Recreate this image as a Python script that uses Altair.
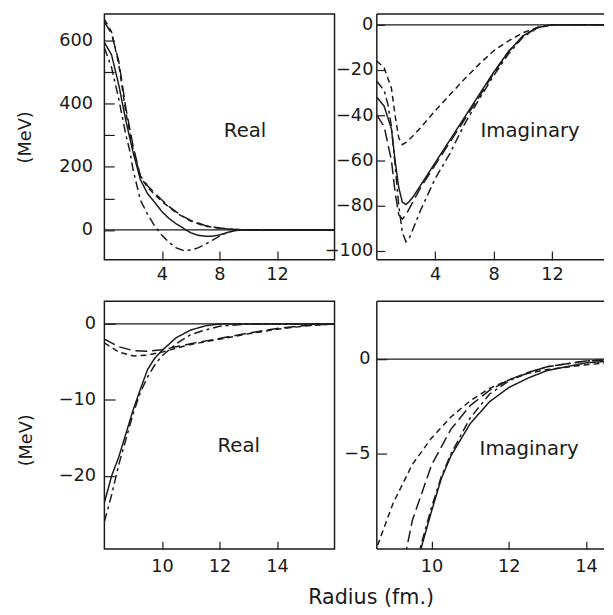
import altair as alt
import pandas as pd

FONT = "DejaVu Sans"
INK = "#1a1a1a"
STYLE_ORDER = ["solid", "long dash", "short dash", "dash-dot"]
DASHES = [[1, 0], [12, 5], [6, 4], [9, 4, 3, 4]]

# ---------------- Top-left: Real part (MeV) ----------------
tl_solid_r = [0, 0.5, 1.0, 1.5, 2.0, 2.5, 3.0, 3.5, 4.0, 4.5, 5.0, 5.5, 6.0, 6.5, 7.0, 7.5, 8.0, 8.5, 9.0, 9.5, 16]
tl_solid_v = [595, 555, 460, 345, 245, 160, 115, 87, 58, 36, 19, 5, -9, -17, -20, -20, -16, -9, -2, 0, 0]
tl_long_r = [0, 0.5, 1.0, 1.5, 2.0, 2.5, 3.0, 3.5, 4.0, 4.5, 5.0, 5.5, 6.0, 7.0, 8.0, 9.0, 10.0, 16]
tl_long_v = [660, 622, 535, 385, 265, 172, 140, 117, 95, 74, 57, 42, 30, 14, 6, 2, 0, 0]
tl_short_r = [0, 0.5, 1.0, 1.5, 2.0, 2.5, 3.0, 3.5, 4.0, 5.0, 6.0, 7.0, 8.0, 9.0, 10.0, 16]
tl_short_v = [668, 628, 525, 370, 255, 170, 135, 112, 90, 54, 28, 12, 5, 1.5, 0, 0]
tl_dd_r = [0, 0.5, 1.0, 1.5, 1.75, 2.0, 2.5, 3.0, 3.5, 4.0, 4.5, 5.0, 5.5, 6.0, 6.5, 7.0, 7.5, 8.0, 8.5, 9.0, 9.5, 16]
tl_dd_v = [578, 515, 415, 300, 254, 190, 95, 50, 12, -17, -40, -57, -65, -64, -57, -46, -33, -20, -9, -3, 0, 0]

# ---------------- Top-right: Imaginary part (MeV) ----------------
tr_solid_r = [0, 0.5, 1.0, 1.25, 1.5, 1.75, 2.0, 2.25, 2.5, 3, 4, 5, 6, 7, 8, 9, 10, 11, 12, 16]
tr_solid_v = [-32, -36, -46, -60, -72, -78.5, -79.5, -78, -76, -71, -61, -51, -41, -31, -21, -12, -5, -1.2, 0, 0]
tr_long_r = [0, 0.5, 1.0, 1.25, 1.5, 1.75, 2.0, 2.25, 2.5, 3, 4, 5, 6, 7, 8, 9, 10, 11, 12, 16]
tr_long_v = [-40, -45, -60, -74, -84, -86, -84, -81, -78, -72, -62, -52, -42, -32, -21.5, -12, -5, -1.2, 0, 0]
tr_short_r = [0, 0.5, 1.0, 1.25, 1.5, 1.75, 2.0, 2.25, 2.5, 3, 4, 5, 6, 7, 8, 9, 10, 11, 12, 16]
tr_short_v = [-16, -19, -28, -40, -50, -53, -52, -50.5, -49, -45.5, -38, -31, -24, -17.5, -11.5, -7.2, -3.5, -1.2, 0, 0]
tr_dd_r = [0, 0.5, 0.75, 1.0, 1.25, 1.5, 1.75, 2.0, 2.25, 2.5, 3, 4, 5, 6, 7, 8, 9, 10, 11, 12, 16]
tr_dd_v = [-25, -29, -35, -45, -62, -80, -92, -96, -94, -90, -82, -68, -57, -44, -33, -22.5, -13, -5.5, -1.3, 0, 0]

# ---------------- Bottom-left: Real part (MeV), outer region ----------------
bl_solid_r = [8.0, 8.25, 8.5, 9.0, 9.25, 9.5, 9.75, 10.0, 10.5, 11.0, 11.5, 12.0, 16]
bl_solid_v = [-23.5, -20, -17.5, -11.3, -8.6, -6.0, -4.5, -3.5, -1.8, -0.8, -0.25, 0, 0]
bl_long_r = [8.0, 8.5, 9.0, 9.5, 10.0, 10.5, 11.0, 12.0, 13.0, 14.0, 15.0, 16]
bl_long_v = [-2.0, -3.0, -3.5, -3.6, -3.4, -3.0, -2.6, -1.9, -1.2, -0.6, -0.2, 0]
bl_short_r = [8.0, 8.5, 9.0, 9.5, 10.0, 10.5, 11.0, 12.0, 13.0, 14.0, 15.0, 16]
bl_short_v = [-2.5, -3.7, -4.2, -4.1, -3.7, -3.2, -2.7, -2.0, -1.3, -0.7, -0.25, 0]
bl_dd_r = [8.0, 8.25, 8.5, 9.0, 9.25, 9.5, 9.75, 10.0, 10.5, 11.0, 11.5, 12.0, 13.0, 16]
bl_dd_v = [-26, -22.5, -18.5, -11.8, -9.0, -7.0, -5.4, -4.2, -2.6, -1.4, -0.8, -0.3, 0, 0]

# ---------------- Bottom-right: Imaginary part (MeV), outer region ----------------
br_solid_r = [9.65, 9.75, 10.0, 10.25, 10.5, 11.0, 11.5, 12.0, 12.5, 13.0, 14.0, 15.0]
br_solid_v = [-10.6, -9.8, -8.0, -6.3, -5.1, -3.4, -2.25, -1.5, -1.0, -0.6, -0.2, -0.05]
br_long_r = [9.3, 9.5, 10.0, 10.5, 11.0, 11.5, 12.0, 12.5, 13.0, 14.0, 15.0]
br_long_v = [-10.5, -8.5, -5.57, -3.7, -2.45, -1.65, -1.1, -0.7, -0.4, -0.1, 0]
br_short_r = [8.6, 9.0, 9.5, 10.0, 10.5, 11.0, 11.5, 12.0, 12.5, 13.0, 14.0, 15.0]
br_short_v = [-9.8, -7.6, -5.55, -4.15, -3.05, -2.2, -1.55, -1.1, -0.75, -0.55, -0.3, -0.12]
br_dd_r = [9.62, 9.75, 10.0, 10.25, 10.5, 11.0, 11.5, 12.0, 12.5, 13.0, 14.0, 15.0]
br_dd_v = [-10.6, -9.6, -7.8, -6.2, -5.0, -3.1, -1.85, -1.15, -0.72, -0.4, -0.1, 0]


def curves(parts):
    rows = []
    for style, rs, vs in parts:
        for r, v in zip(rs, vs):
            rows.append({"r": r, "v": v, "style": style})
    return pd.DataFrame(rows)


def panel(df, xdom, ydom, w, h, xticks, yticks, label, label_rv, xpad, ypad,
          ytitle=None, title_y=None, left=True, ylabel_expr=None, xtick=9, ytick=10):
    xs = alt.Scale(domain=xdom, nice=False, zero=False)
    ys = alt.Scale(domain=ydom, nice=False, zero=False)
    xaxis = alt.Axis(values=xticks, title=None, domain=False, grid=False,
                     tickSize=xtick, offset=-xtick, tickColor=INK, tickWidth=1.2,
                     labelPadding=xpad, labelFont=FONT, labelFontSize=18,
                     labelColor=INK, labelFlush=False)
    yargs = dict(values=yticks, domain=False, grid=False,
                 tickSize=ytick, offset=-ytick, tickColor=INK, tickWidth=1.2,
                 labelPadding=ypad, labelFont=FONT, labelFontSize=18,
                 labelColor=INK, labelFlush=False)
    if ylabel_expr:
        yargs["labelExpr"] = ylabel_expr
    if ytitle:
        yargs.update(title=ytitle, titleFont=FONT, titleFontSize=18,
                     titleFontWeight="normal", titleColor=INK,
                     titleX=-81, titleY=title_y)
    else:
        yargs["title"] = None
    yaxis = alt.Axis(**yargs)
    X = lambda: alt.X("r:Q", scale=xs, axis=xaxis)
    Y = lambda: alt.Y("v:Q", scale=ys, axis=yaxis)

    lines = alt.Chart(df).mark_line(clip=True, strokeWidth=1.5, color=INK).encode(
        x=X(), y=Y(),
        strokeDash=alt.StrokeDash("style:N",
                                  scale=alt.Scale(domain=STYLE_ORDER, range=DASHES),
                                  legend=None),
        detail="style:N",
    )
    zero = alt.Chart(pd.DataFrame({"v": [0]})).mark_rule(
        color=INK, strokeWidth=1.3).encode(y=Y())
    txt = alt.Chart(pd.DataFrame({"r": [label_rv[0]], "v": [label_rv[1]], "t": [label]})).mark_text(
        font=FONT, fontSize=20, color=INK, align="center", baseline="middle").encode(
        x=X(), y=Y(), text="t:N")
    layers = [lines, zero, txt]
    if not left:
        vframe = alt.Chart(pd.DataFrame({"r": [xdom[0]]})).mark_rule(
            color=INK, strokeWidth=1.5).encode(x=X())
        hframe = alt.Chart(pd.DataFrame({"v": [ydom[0], ydom[1]]})).mark_rule(
            color=INK, strokeWidth=1.5).encode(y=Y())
        layers += [vframe, hframe]
    ch = alt.layer(*layers).properties(width=w, height=h)
    if not left:
        ch = ch.properties(view=alt.ViewBackground(strokeOpacity=0))
    return ch


tl = panel(curves([("solid", tl_solid_r, tl_solid_v), ("long dash", tl_long_r, tl_long_v),
                   ("short dash", tl_short_r, tl_short_v), ("dash-dot", tl_dd_r, tl_dd_v)]),
           [0, 16], [-95, 685], 234, 250, [4, 8, 12], [0, 100, 200, 300, 400, 500, 600],
           "Real", (9.78, 314), 6, 12, ytitle="(MeV)", title_y=125,
           ylabel_expr="datum.value % 200 == 0 ? datum.label : ''")
tr = panel(curves([("solid", tr_solid_r, tr_solid_v), ("long dash", tr_long_r, tr_long_v),
                   ("short dash", tr_short_r, tr_short_v), ("dash-dot", tr_dd_r, tr_dd_v)]),
           [0, 15.56], [-104, 4.8], 231, 250, [4, 8, 12], [0, -20, -40, -60, -80, -100],
           "Imaginary", (10.5, -47), 6, 4, left=False, ytick=8)
bl = panel(curves([("solid", bl_solid_r, bl_solid_v), ("long dash", bl_long_r, bl_long_v),
                   ("short dash", bl_short_r, bl_short_v), ("dash-dot", bl_dd_r, bl_dd_v)]),
           [8, 16], [-29.6, 3.0], 234, 252, [10, 12, 14], [0, -10, -20],
           "Real", (12.67, -16.1), 9, 9, ytitle="(MeV)", title_y=141, xtick=8, ytick=11)
br = panel(curves([("solid", br_solid_r, br_solid_v), ("long dash", br_long_r, br_long_v),
                   ("short dash", br_short_r, br_short_v), ("dash-dot", br_dd_r, br_dd_v)]),
           [8.58, 14.47], [-10.0, 3.05], 231, 252, [10, 12, 14], [0, -5],
           "Imaginary", (12.53, -4.72), 9, 7, left=False, xtick=8)

chart = alt.concat(tl, tr, bl, br, columns=2,
                   spacing=alt.RowColnumber(row=42, column=43),
                   bounds="flush").properties(
    title=alt.TitleParams("Radius (fm.)", orient="bottom", anchor="start", frame="bounds",
                          font=FONT, fontSize=21, fontWeight="normal", color=INK,
                          offset=11, dx=297),
    padding={"left": 8, "top": 0, "right": 0, "bottom": 0},
    background="white",
).configure_view(stroke=INK, strokeWidth=1.5)

chart.save("out.html", embed_options={"renderer": "svg", "actions": False})
